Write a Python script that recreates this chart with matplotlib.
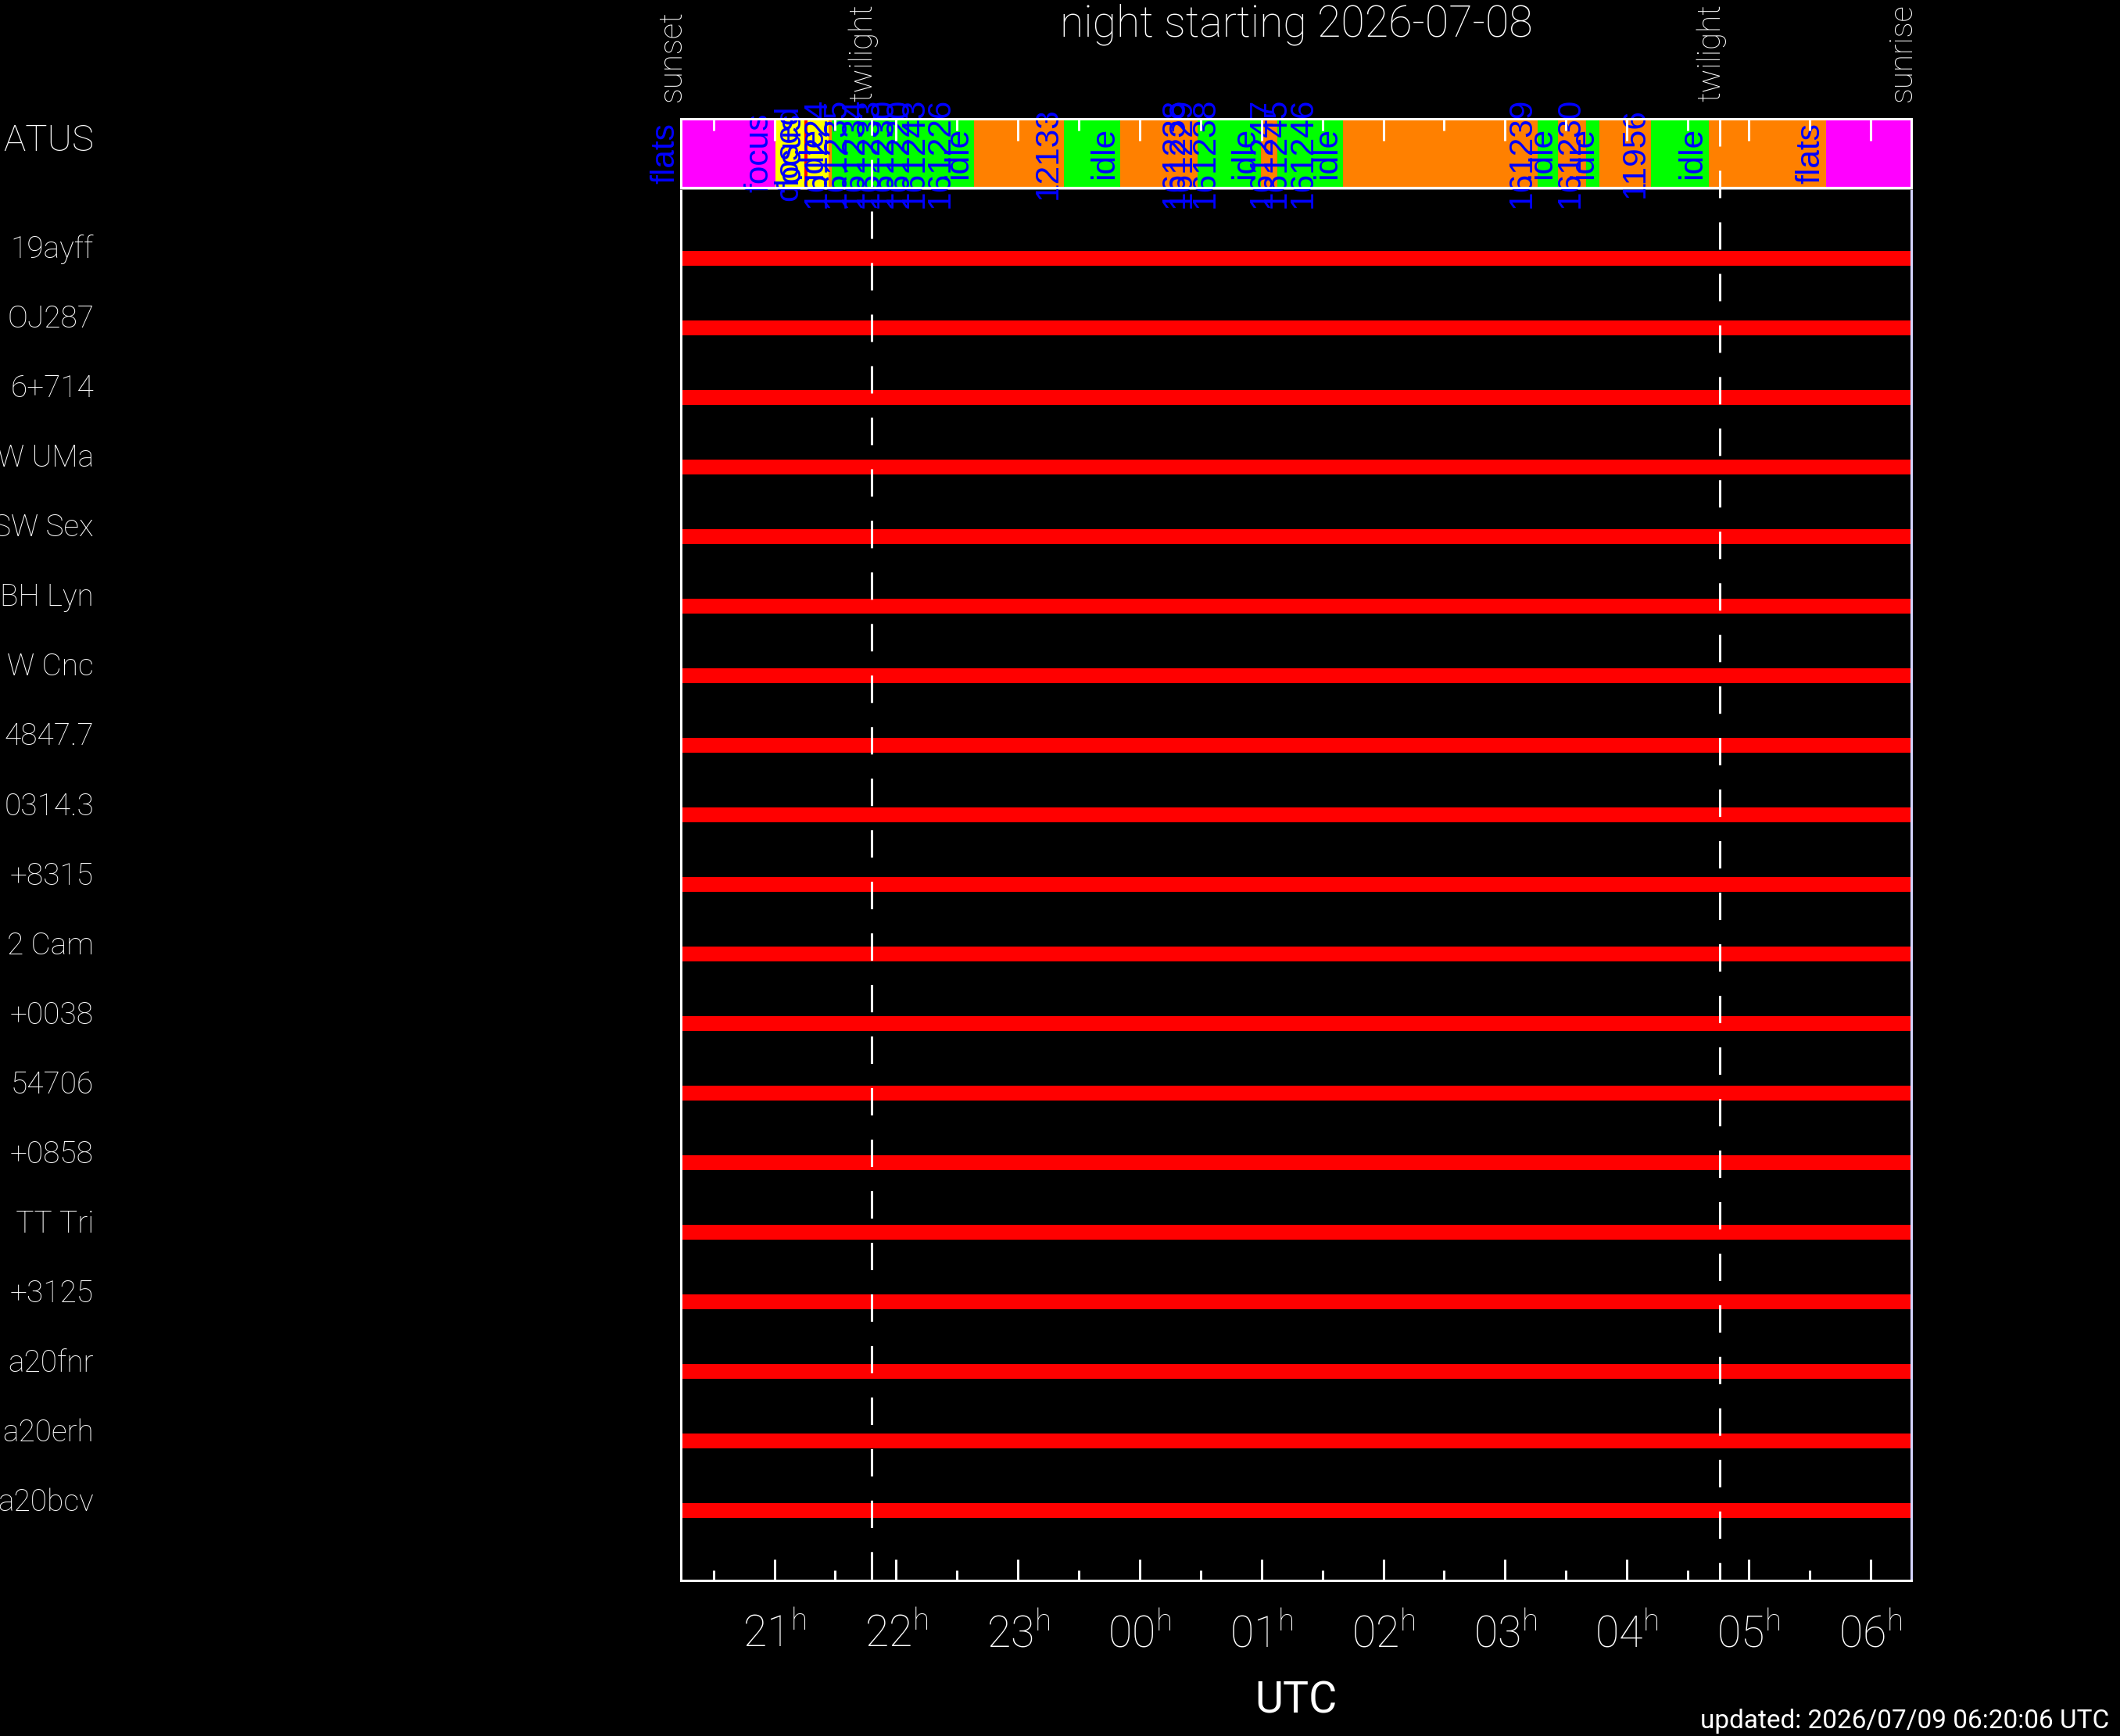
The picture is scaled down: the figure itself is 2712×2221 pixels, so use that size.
import matplotlib
matplotlib.use('Agg')
import matplotlib.pyplot as plt
from matplotlib.lines import Line2D
from matplotlib.transforms import blended_transform_factory

plt.rcParams['font.family'] = ['Roboto', 'DejaVu Sans']
plt.rcParams['font.weight'] = 'light'
plt.rcParams['mathtext.fontset'] = 'custom'
plt.rcParams['mathtext.rm'] = 'Roboto:light'
plt.rcParams['lines.scale_dashes'] = False

# ---------------- data ----------------
title = "night starting 2026-07-08"
updated = "updated: 2026/07/09 06:20:06 UTC"
x_label = "UTC"

# times in hours after midnight of 2026-07-08 (values > 24 are after midnight)
sunset = 20.2324
sunrise = 30.3357
twilight_evening = 21.7985
twilight_morning = 28.7625

status_start = [20.2324, 21.0071, 21.2484, 21.2741, 21.4454, 21.4730, 21.6380,
                21.7856, 21.9076, 22.0231, 22.1515, 22.2798, 22.4917, 22.6393,
                23.3774, 23.8415, 24.4172, 24.4730, 24.6656, 24.9968, 25.1329,
                25.2516, 25.4698, 25.6707, 27.2651, 27.4358, 27.6669, 27.7741,
                28.1958, 28.6707, 29.6354]
status_label = ["flats", "focus", "closed", "focus", "idle", "161224", "161235",
                "161234", "161233", "161230", "161220", "161243", "161226", "idle",
                "12133", "idle", "161238", "161229", "161238", "idle", "161247",
                "161245", "161246", "idle", "161239", "idle", "161230", "idle",
                "11956", "idle", "flats"]
status_color = ["#ff00ff", "#ffff00", "#ff0000", "#ffff00", "#ff8000", "#00ff00",
                "#00ff00", "#00ff00", "#00ff00", "#00ff00", "#00ff00", "#00ff00",
                "#00ff00", "#ff8000", "#00ff00", "#ff8000", "#ff8000", "#00ff00",
                "#00ff00", "#ff8000", "#00ff00", "#00ff00", "#00ff00", "#ff8000",
                "#00ff00", "#ff8000", "#00ff00", "#ff8000", "#00ff00", "#ff8000",
                "#ff00ff"]

status_name = "ATUS"
targets = ["19ayff", "OJ287", "6+714", "W UMa", "SW Sex", "BH Lyn", "W Cnc",
           "4847.7", "0314.3", "+8315", "2 Cam", "+0038", "54706", "+0858",
           " TT Tri", "+3125", "a20fnr", "a20erh", "a20bcv"]
target_start = [20.2324, 20.2324, 20.2324, 20.2324, 20.2324, 20.2324, 20.2324,
                20.2324, 20.2324, 20.2324, 20.2324, 20.2324, 20.2324, 20.2324,
                20.2324, 20.2324, 20.2324, 20.2324, 20.2324]
target_end = [30.3357, 30.3357, 30.3357, 30.3357, 30.3357, 30.3357, 30.3357,
              30.3357, 30.3357, 30.3357, 30.3357, 30.3357, 30.3357, 30.3357,
              30.3357, 30.3357, 30.3357, 30.3357, 30.3357]

hour_ticks = [21, 22, 23, 24, 25, 26, 27, 28, 29, 30]
hour_labels = ["21", "22", "23", "00", "01", "02", "03", "04", "05", "06"]
half_ticks = [20.5, 21.5, 22.5, 23.5, 24.5, 25.5, 26.5, 27.5, 28.5, 29.5]

sun_labels = ["sunset", "twilight", "twilight", "sunrise"]
sun_times = [sunset, twilight_evening, twilight_morning, sunrise]

# ---------------- figure ----------------
W, H = 2712, 2221
fig = plt.figure(figsize=(W / 100, H / 100), dpi=100, facecolor='black')

L, R = 871, 2445
main_top, main_bot = 241, 2022
bar_top, bar_bot = 151.5, 240

ax = fig.add_axes([L / W, 1 - main_bot / H, (R - L) / W, (main_bot - main_top) / H])
ax_s = fig.add_axes([L / W, 1 - bar_bot / H, (R - L) / W, (bar_bot - bar_top) / H])

for a in (ax, ax_s):
    a.set_facecolor('black')
    a.set_xlim(sunset, sunrise)

# main axes: visibility bars
n = len(targets)
rows = list(range(1, n + 1))
widths = [e - s for s, e in zip(target_start, target_end)]
ax.barh(rows, widths, left=target_start, height=0.213, color='#ff0000', linewidth=0)
ax.set_ylim(n + 1, 0)
ax.set_yticks([])

ax.spines['left'].set_color('white')
ax.spines['bottom'].set_color('white')
ax.spines['right'].set_color('#d4d4ff')
ax.spines['top'].set_color('#7a7a7a')
for sp in ax.spines.values():
    sp.set_linewidth(2.2)

ax.set_xticks(hour_ticks)
ax.set_xticklabels([f"{h}$^{{\\rm h}}$" for h in hour_labels])
ax.set_xticks(half_ticks, minor=True)
ax.tick_params(axis='x', which='major', direction='in', length=19.5, width=2.2,
               color='white', labelcolor='white', labelsize=40, pad=30)
ax.tick_params(axis='x', which='minor', direction='in', length=9.5, width=2.2,
               color='white')
ax.set_xlabel(x_label, color='white', fontsize=40)
ax.xaxis.set_label_coords(0.5, (main_bot - 2176) / (main_bot - main_top))
ax.xaxis.label.set_va('center')

# target names
tr_rows = blended_transform_factory(fig.transFigure, ax.transData)
for r, name in zip(rows, targets):
    ax.text(120 / W, r - 0.12, name, transform=tr_rows, ha='right', va='center',
            color='white', fontsize=28, clip_on=False)
fig.text(120 / W, 1 - 180 / H, status_name, ha='right', va='center',
         color='white', fontsize=34)

# status bar
status_end = status_start[1:] + [sunrise]
seg_w = [e - s for s, e in zip(status_start, status_end)]
ax_s.barh(0.5, seg_w, left=status_start, height=1.0, color=status_color,
          linewidth=0, zorder=1)
ax_s.set_ylim(0, 1)
ax_s.set_yticks([])
for s, lab in zip(status_start, status_label):
    ax_s.text(s, 0.5, lab, rotation=90, ha='right', va='center', color='#0000ff',
              fontsize=30.5, family=['Liberation Sans', 'DejaVu Sans'],
              fontweight='normal', clip_on=False, zorder=2)
for sp in ax_s.spines.values():
    sp.set_color('white')
    sp.set_linewidth(2.2)
    sp.set_zorder(3)
ax_s.set_axisbelow(False)
ax_s.xaxis.set_ticks_position('top')
ax_s.set_xticks(hour_ticks)
ax_s.set_xticks(half_ticks, minor=True)
ax_s.tick_params(axis='x', which='major', direction='in', length=20, width=2.2,
                 color='white', labeltop=False, labelbottom=False)
ax_s.tick_params(axis='x', which='minor', direction='in', length=11, width=2.2,
                 color='white', labeltop=False, labelbottom=False)

# twilight dashed lines
tr_line = blended_transform_factory(ax.transData, fig.transFigure)
for t, off in ((twilight_evening, 10.0), (twilight_morning, 0.0)):
    fig.add_artist(Line2D([t, t], [1 - bar_top / H, 1 - main_bot / H],
                          transform=tr_line, color='white', linewidth=2.2,
                          linestyle=(off, (25.2, 22.3)), zorder=5))

# sun / twilight labels
for t, lab in zip(sun_times, sun_labels):
    fig.text(t, 1 - 130 / H, lab, transform=tr_line, rotation=90,
             rotation_mode='anchor', ha='left', va='baseline', color='white',
             fontsize=29)

fig.text(1658 / W, 1 - 31 / H, title, ha='center', va='center', color='white',
         fontsize=40)
fig.text(2698 / W, 1 - 2211 / H, updated, ha='right', va='baseline', color='white',
         fontsize=24, fontweight='normal')

fig.savefig('out.png', dpi=100, facecolor='black')
